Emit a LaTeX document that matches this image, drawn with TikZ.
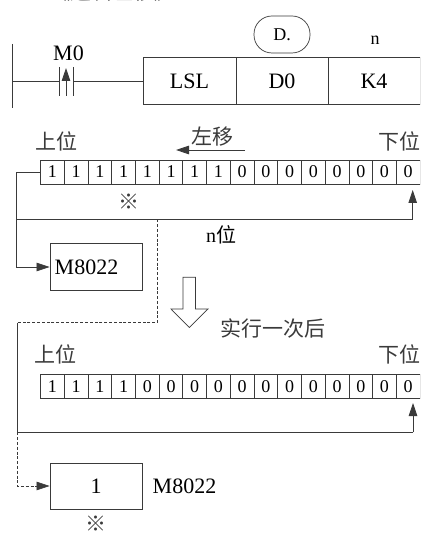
\documentclass[tikz,border=0pt]{standalone}
\usepackage{fontspec}
\setmainfont{Liberation Serif}
\newfontfamily\cjk{Noto Sans CJK SC}
\usetikzlibrary{arrows.meta}
\definecolor{ink}{HTML}{3A3A3A}
\tikzset{
  wire/.style={draw=ink,line width=0.8pt},
  dash wire/.style={draw=ink,line width=0.7pt,dash pattern=on 3pt off 1.8pt},
  tipped/.style={-{Stealth[length=13pt,width=8.5pt,inset=0pt]}},
  box/.style={draw=ink,line width=0.8pt,minimum height=47pt,anchor=center,inner sep=0pt,text=black,font=\fontsize{22}{22}\selectfont},
  cell/.style={draw=ink,line width=0.8pt,minimum width=23.72pt,minimum height=24pt,inner sep=0pt,font=\fontsize{18}{18}\selectfont},
  han/.style={inner sep=0pt,font=\fontsize{21}{21}\cjk\selectfont,text=ink},
  plain/.style={inner sep=0pt,font=\fontsize{22}{22}\selectfont}
}
\begin{document}
\begin{tikzpicture}[x=1pt,y=-1pt]
\useasboundingbox (0,0) rectangle (420,534);
\clip (0,0) rectangle (420,534);
\node[han] (title) at (112,-8.5) {《逻辑左移》};
% ladder rung
\coordinate (railT) at (12,44);
\coordinate (railB) at (12,108);
\draw[wire] (railT) -- (railB);
\coordinate (railM) at (12,81);
\coordinate (cL) at (59,81);
\coordinate (cR) at (73,81);
\draw[wire] (59,67) -- (59,96);
\draw[wire] (73,67) -- (73,96);
\node[plain] (m0) at (68.5,53) {M0};
\draw[wire] (railM) -- (cL);
\draw[wire,tipped] (66,96) -- (66,68);
% instruction box
\node[box,minimum width=93pt] (lsl) at (189.5,81) {LSL};
\node[box,minimum width=92pt] (d0) at (282,81) {D0};
\node[box,minimum width=92pt] (k4) at (374,81) {K4};
\draw[wire] (cR) -- (lsl.west);
\node[draw=ink,line width=0.7pt,rounded corners=18pt,minimum width=56pt,minimum height=37pt,inner sep=0pt,font=\fontsize{18}{18}\selectfont] (dtag) at (282,34.5) {D.};
\node[inner sep=0pt,font=\fontsize{18}{18}\selectfont] (ntag) at (375,40) {n};
% first register
\node[han] (hi1) at (56,141) {上位};
\node[han] (lo1) at (399,141) {下位};
\node[han] (left) at (212,137) {左移};
\coordinate (lA) at (245,150);
\coordinate (lB) at (176,150);
\draw[wire,tipped] (lA) -- (lB);
\foreach \v [count=\i from 0] in {1,1,1,1,1,1,1,1,0,0,0,0,0,0,0,0}
  \node[cell] (a\i) at ({52.4+23.72*\i},172) {\v};
\node[han] (mk1) at (129,202) {※};
\coordinate (jL1) at (16,219.3);
\coordinate (jR1) at (412.7,219.3);
\coordinate (fb1) at (16,172);
\coordinate (dropA) at (157.5,219.3);
\coordinate (dropB) at (157.5,322.5);
\coordinate (dropC) at (17,322.5);
\coordinate (dropD) at (17,432.3);
\draw[wire] (a0.west) -- (fb1) -- (jL1) -- (jR1);
\draw[wire,tipped] (jR1) -- (412.7,190);
\node[han,text=black] (nbit) at (221,235) {\fontsize{20}{20}\selectfont{\rmfamily n}位};
\node[box,minimum width=92.5pt] (m1) at (96.2,267) {};
\node[plain] (m1t) at (86.5,267) {M8022};
\draw[wire,tipped] (jL1) |- (m1.west);
\draw[dash wire] (dropA) -- (dropB) -- (dropC);
% hollow arrow
\draw[draw=ink,line width=0.7pt,fill=white] (183,277.3) -- (195.5,277.3) -- (195.5,309) -- (208,309) -- (189.3,327.5) -- (171,309) -- (183,309) -- cycle;
\node[han] (once) at (272.5,328) {实行一次后};
% second register
\node[han] (hi2) at (55,354) {上位};
\node[han] (lo2) at (399,354) {下位};
\foreach \v [count=\i from 0] in {1,1,1,1,0,0,0,0,0,0,0,0,0,0,0,0}
  \node[cell] (b\i) at ({52.4+23.72*\i},386.3) {\v};
\coordinate (jR2) at (413,432.3);
\draw[wire] (dropC) -- (dropD) -- (jR2);
\draw[wire,tipped] (jR2) -- (413,403);
\node[box,minimum width=92.5pt,minimum height=46pt] (m2) at (96.2,486) {1};
\node[plain] (m2t) at (184.5,486) {M8022};
\draw[dash wire,tipped] (dropD) |- (m2.west);
\node[han] (mk2) at (96,523.5) {※};
\end{tikzpicture}
\end{document}
